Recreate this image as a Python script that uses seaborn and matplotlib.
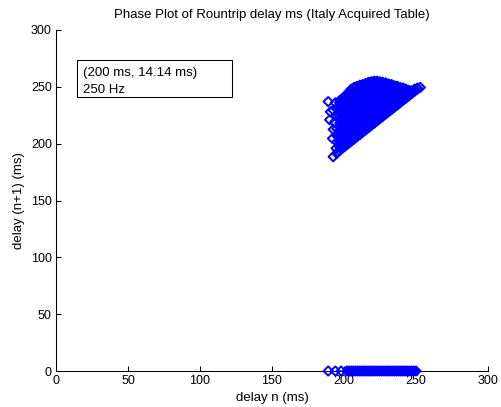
import matplotlib
matplotlib.use("Agg")
import matplotlib.pyplot as plt
import pandas as pd
import seaborn as sns
from matplotlib.patches import Rectangle

# ---------------- text ----------------
TITLE = "Phase Plot of Rountrip delay ms (Italy Acquired Table)"
XLABEL = "delay n (ms)"
YLABEL = "delay (n+1) (ms)"
INFO_LINES = ["(200 ms, 14.14 ms)", "250 Hz"]
AXIS_TICKS = [0, 50, 100, 150, 200, 250, 300]

# ---------------- data ----------------
# delay n (ms) for each column of the dense wedge
delay_n_cols = [197, 199, 201, 203, 205, 207, 209, 211, 213, 215, 217, 219, 221,
                223, 225, 227, 229, 231, 233, 235, 237, 239, 241, 243, 245, 247,
                249, 251, 253]
# delay n+1 (ms) observed for each of those columns
delay_next_cols = [
    [194, 197, 200, 203, 206, 209, 212, 215, 218, 221, 224, 227, 230, 233, 236, 238],
    [196, 198.5, 201.5, 204.5, 207.5, 210.5, 213.5, 216.5, 219.5, 222.5, 225.5, 228.5, 231.5, 234.5, 237.5, 240],
    [198, 200, 203, 206, 209, 212, 215, 218, 221, 224, 227, 230, 233, 236, 239, 242],
    [200, 202.5, 205.5, 208.5, 211.5, 214.5, 217.5, 220.5, 223.5, 226.5, 229.5, 232.5, 235.5, 238.5, 241.5, 245],
    [202, 204, 207, 210, 213, 216, 219, 222, 225, 228, 231, 234, 237, 240, 243, 246, 248],
    [204, 206.5, 209.5, 212.5, 215.5, 218.5, 221.5, 224.5, 227.5, 230.5, 233.5, 236.5, 239.5, 242.5, 245.5, 249.5],
    [206, 208, 211, 214, 217, 220, 223, 226, 229, 232, 235, 238, 241, 244, 247, 250.5],
    [208, 210.5, 213.5, 216.5, 219.5, 222.5, 225.5, 228.5, 231.5, 234.5, 237.5, 240.5, 243.5, 246.5, 249.5, 251.5],
    [210, 212, 215, 218, 221, 224, 227, 230, 233, 236, 239, 242, 245, 248, 252],
    [212, 214.5, 217.5, 220.5, 223.5, 226.5, 229.5, 232.5, 235.5, 238.5, 241.5, 244.5, 247.5, 250.5, 253],
    [214, 216, 219, 222, 225, 228, 231, 234, 237, 240, 243, 246, 249, 252, 254],
    [216, 218.5, 221.5, 224.5, 227.5, 230.5, 233.5, 236.5, 239.5, 242.5, 245.5, 248.5, 251.5, 254.5],
    [218, 220, 223, 226, 229, 232, 235, 238, 241, 244, 247, 250, 253, 255],
    [220, 222.5, 225.5, 228.5, 231.5, 234.5, 237.5, 240.5, 243.5, 246.5, 249.5, 252.5, 255],
    [222, 224, 227, 230, 233, 236, 239, 242, 245, 248, 251, 254.5],
    [224, 226.5, 229.5, 232.5, 235.5, 238.5, 241.5, 244.5, 247.5, 250.5, 254],
    [226, 228, 231, 234, 237, 240, 243, 246, 249, 252, 253.5],
    [228, 230.5, 233.5, 236.5, 239.5, 242.5, 245.5, 248.5, 252.5],
    [230, 232, 235, 238, 241, 244, 247, 250, 252],
    [232, 234.5, 237.5, 240.5, 243.5, 246.5, 249.5, 251],
    [234, 236, 239, 242, 245, 248, 250.5],
    [236, 238.5, 241.5, 244.5, 247.5, 249.5],
    [238, 240, 243, 246, 249],
    [240, 242.5, 245.5, 248],
    [242, 244, 247],
    [244, 246.5],
    [246, 248],
    [248, 249],
    [249.5],
]
# sparse samples on the left edge of the wedge
left_delay_n = [189, 190.5, 192.5, 190, 193.5, 192.5, 192, 195, 192.5, 195,
                194.5, 195, 195, 195, 195.5, 194]
left_delay_next = [237, 228, 229.5, 221, 219, 212.5, 204.5, 201.5, 188.5, 191.5,
                   196, 207, 213, 224, 232, 236]
# delay n values whose next sample reads 0 ms
lost_delay_n = [189, 194, 198, 202, 203.5, 205, 206.5, 208, 209.5, 211, 212.5, 214,
                215.5, 217, 218.5, 220, 221.5, 223, 224.5, 226, 227.5, 229, 230.5,
                232, 233.5, 235, 236.5, 238, 239.5, 241, 242.5, 244, 245.5, 247,
                248.5, 250]
lost_delay_next = 0

# ---------------- assemble table ----------------
xs, ys = [], []
for dn, nexts in zip(delay_n_cols, delay_next_cols):
    for nx in nexts:
        xs.append(dn)
        ys.append(nx)
xs += left_delay_n
ys += left_delay_next
xs += lost_delay_n
ys += [lost_delay_next] * len(lost_delay_n)
df = pd.DataFrame({"delay_n": xs, "delay_next": ys})

# ---------------- style ----------------
sns.set_theme(style="ticks")
plt.rcParams["font.family"] = ["Liberation Sans", "DejaVu Sans"]
plt.rcParams["axes.linewidth"] = 0.75

FS = 9.5
TICK_FS = 9

fig = plt.figure(figsize=(5.01, 4.07), dpi=100)
ax = fig.add_axes([56 / 501, 36 / 407, 432 / 501, 341 / 407])

sns.scatterplot(data=df, x="delay_n", y="delay_next", ax=ax,
                marker="D", s=22, facecolor="none", edgecolor="#0000ff",
                linewidth=1.4, clip_on=False, legend=False, zorder=3)

ax.set_xlim(0, 300)
ax.set_ylim(0, 300)
ax.set_xticks(AXIS_TICKS)
ax.set_yticks(AXIS_TICKS)
ax.tick_params(direction="in", length=3.5, width=0.75, pad=3,
               labelsize=TICK_FS, colors="black")
sns.despine(ax=ax)
for side in ("left", "bottom"):
    ax.spines[side].set_color("black")

ax.set_title(TITLE, fontsize=FS, pad=8.5, color="black")
ax.set_xlabel(XLABEL, fontsize=FS, labelpad=3.3, color="black")
ax.set_ylabel(YLABEL, fontsize=FS, labelpad=4, color="black")

# info box
ax.add_patch(Rectangle((21 / 432, 274 / 341), 155 / 432, 37 / 341,
                       transform=ax.transAxes, facecolor="white",
                       edgecolor="black", linewidth=0.75, zorder=4))
for line, base_px in zip(INFO_LINES, (76.3, 92.7)):
    ax.text(27 / 432, (371 - base_px) / 341, line, transform=ax.transAxes,
            ha="left", va="baseline", fontsize=FS, color="black", zorder=5)

fig.savefig("out.png", dpi=100)
